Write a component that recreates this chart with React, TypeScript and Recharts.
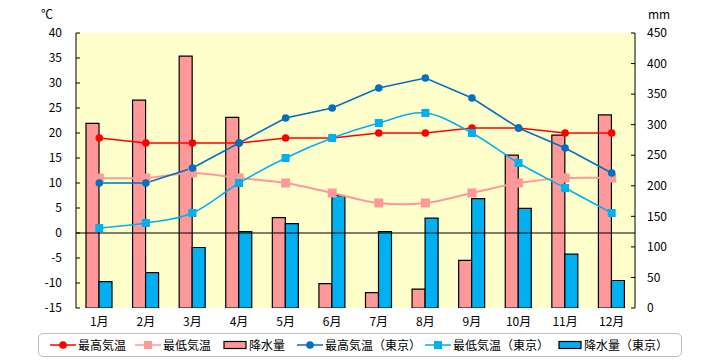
import React from 'react';
import { ComposedChart, Bar, Line, XAxis, YAxis, ReferenceLine, CartesianGrid } from 'recharts';

const months = ['1月', '2月', '3月', '4月', '5月', '6月', '7月', '8月', '9月', '10月', '11月', '12月'];
const maxTemp = [19, 18, 18, 18, 19, 19, 20, 20, 21, 21, 20, 20];
const minTemp = [11, 11, 12, 11, 10, 8, 6, 6, 8, 10, 11, 11];
const rain = [302, 340, 412, 312, 148, 40, 25, 31, 78, 250, 283, 316];
const tokyoMax = [10, 10, 13, 18, 23, 25, 29, 31, 27, 21, 17, 12];
const tokyoMin = [1, 2, 4, 10, 15, 19, 22, 24, 20, 14, 9, 4];
const tokyoRain = [43, 58, 99, 125, 138, 184, 125, 147, 179, 163, 88, 45];
const tempTicks = [-15, -10, -5, 0, 5, 10, 15, 20, 25, 30, 35, 40];
const rainTicks = [0, 50, 100, 150, 200, 250, 300, 350, 400, 450];

const data = months.map((m, i) => ({
  month: m,
  maxTemp: maxTemp[i],
  minTemp: minTemp[i],
  rain: rain[i],
  tokyoMax: tokyoMax[i],
  tokyoMin: tokyoMin[i],
  tokyoRain: tokyoRain[i],
}));

const FONT = '"Noto Sans CJK JP", "Noto Sans", sans-serif';

const C_RED = '#FF0000';
const C_PINK = '#FF9999';
const C_BLUE = '#0070C0';
const C_LBLUE = '#00B0F0';

// Catmull-Rom style smoothing (like spreadsheet "smoothed line")
function smoothCurve(context: any) {
  let pts: [number, number][] = [];
  return {
    areaStart() {},
    areaEnd() {},
    lineStart() {
      pts = [];
    },
    point(x: number, y: number) {
      pts.push([+x, +y]);
    },
    lineEnd() {
      if (!pts.length) return;
      context.moveTo(pts[0][0], pts[0][1]);
      for (let i = 0; i < pts.length - 1; i++) {
        const p0 = pts[i - 1] || pts[i];
        const p1 = pts[i];
        const p2 = pts[i + 1];
        const p3 = pts[i + 2] || p2;
        context.bezierCurveTo(
          p1[0] + (p2[0] - p0[0]) / 6,
          p1[1] + (p2[1] - p0[1]) / 6,
          p2[0] - (p3[0] - p1[0]) / 6,
          p2[1] - (p3[1] - p1[1]) / 6,
          p2[0],
          p2[1]
        );
      }
    },
  };
}

const squareDot = (color: string, size: number, name: string) => (props: any) => {
  const { cx, cy, index } = props;
  if (cx == null || cy == null) return <g key={`${name}-${index}`} />;
  return (
    <rect
      key={`${name}-${index}`}
      x={cx - size / 2}
      y={cy - size / 2}
      width={size}
      height={size}
      fill={color}
    />
  );
};

const LineSample = ({ color, marker }: { color: string; marker: 'circle' | 'square' }) => (
  <svg width={26} height={12} style={{ display: 'block' }}>
    <line x1={0} y1={6} x2={26} y2={6} stroke={color} strokeWidth={1.5} />
    {marker === 'circle' ? (
      <circle cx={13} cy={6} r={3.8} fill={color} />
    ) : (
      <rect x={9} y={2} width={8} height={8} fill={color} />
    )}
  </svg>
);

const RectSample = ({ color }: { color: string }) => (
  <svg width={24} height={12} style={{ display: 'block' }}>
    <rect x={1} y={2.5} width={22} height={7} fill={color} stroke="#000" strokeWidth={1.2} />
  </svg>
);

const legendItems = [
  { label: '最高気温', left: 11, kind: 'line', color: C_RED, marker: 'circle' },
  { label: '最低気温', left: 96, kind: 'line', color: C_PINK, marker: 'square' },
  { label: '降水量', left: 184, kind: 'rect', color: C_PINK, marker: 'circle' },
  { label: '最高気温（東京）', left: 258, kind: 'line', color: C_BLUE, marker: 'circle' },
  { label: '最低気温（東京）', left: 386, kind: 'line', color: C_LBLUE, marker: 'square' },
  { label: '降水量（東京）', left: 519, kind: 'rect', color: C_LBLUE, marker: 'circle' },
];

export default function App() {
  return (
    <div style={{ position: 'absolute', left: 0, top: 0, width: 720, height: 360, background: '#fff', fontFamily: FONT }}>
      <div style={{ position: 'absolute', left: 41, top: 5, fontSize: 12, color: '#000' }}>℃</div>
      <div style={{ position: 'absolute', left: 648, top: 5, fontSize: 12, color: '#000' }}>mm</div>
      <ComposedChart
        width={720}
        height={360}
        data={data}
        margin={{ top: 33, right: 45, bottom: 32, left: 36 }}
        barGap={0}
        style={{ fontFamily: FONT }}
      >
        <CartesianGrid horizontal={false} vertical={false} fill="#FFFFCC" stroke="none" />
        <XAxis
          dataKey="month"
          xAxisId="x"
          axisLine={false}
          tickLine={false}
          tickSize={0}
          tickMargin={9}
          height={20}
          interval={0}
          tick={{ fill: '#000', fontSize: 12, fontFamily: FONT }}
        />
        <YAxis
          yAxisId="l"
          orientation="left"
          width={40}
          domain={[-15, 40]}
          ticks={tempTicks}
          interval={0}
          allowDataOverflow
          axisLine={{ stroke: '#000', strokeWidth: 1 }}
          tickLine={{ stroke: '#000', strokeWidth: 1 }}
          tickSize={-4}
          tickMargin={18}
          tick={{ fill: '#000', fontSize: 12, fontFamily: FONT }}
        />
        <YAxis
          yAxisId="r"
          orientation="right"
          width={40}
          domain={[0, 450]}
          ticks={rainTicks}
          interval={0}
          allowDataOverflow
          axisLine={{ stroke: '#000', strokeWidth: 1 }}
          tickLine={{ stroke: '#000', strokeWidth: 1 }}
          tickSize={-4}
          tickMargin={16}
          tick={{ fill: '#000', fontSize: 12, fontFamily: FONT }}
        />
        <Bar
          xAxisId="x"
          yAxisId="r"
          dataKey="rain"
          barSize={13}
          fill={C_PINK}
          stroke="#000"
          strokeWidth={1.2}
          isAnimationActive={false}
        />
        <Bar
          xAxisId="x"
          yAxisId="r"
          dataKey="tokyoRain"
          barSize={13}
          fill={C_LBLUE}
          stroke="#000"
          strokeWidth={1.2}
          isAnimationActive={false}
        />
        <ReferenceLine xAxisId="x" yAxisId="l" y={0} stroke="#000" strokeWidth={1.2} />
        <Line
          xAxisId="x"
          yAxisId="l"
          dataKey="minTemp"
          type={smoothCurve as any}
          stroke={C_PINK}
          strokeWidth={2}
          dot={squareDot(C_PINK, 9, 'min') as any}
          activeDot={false}
          isAnimationActive={false}
        />
        <Line
          xAxisId="x"
          yAxisId="l"
          dataKey="maxTemp"
          type="linear"
          stroke={C_RED}
          strokeWidth={1.5}
          dot={{ r: 3.8, fill: C_RED, stroke: C_RED, strokeWidth: 0 }}
          activeDot={false}
          isAnimationActive={false}
        />
        <Line
          xAxisId="x"
          yAxisId="l"
          dataKey="tokyoMin"
          type={smoothCurve as any}
          stroke={C_LBLUE}
          strokeWidth={1.5}
          dot={squareDot(C_LBLUE, 8, 'tmin') as any}
          activeDot={false}
          isAnimationActive={false}
        />
        <Line
          xAxisId="x"
          yAxisId="l"
          dataKey="tokyoMax"
          type="linear"
          stroke={C_BLUE}
          strokeWidth={1.5}
          dot={{ r: 3.8, fill: C_BLUE, stroke: C_BLUE, strokeWidth: 0 }}
          activeDot={false}
          isAnimationActive={false}
        />
      </ComposedChart>
      <div
        style={{
          position: 'absolute',
          left: 38,
          top: 333,
          width: 644,
          height: 24,
          border: '1px solid #BDBDBD',
          borderRadius: 5,
          boxSizing: 'border-box',
        }}
      >
        {legendItems.map((it) => (
          <div
            key={it.label}
            style={{
              position: 'absolute',
              left: it.left,
              top: 4,
              display: 'flex',
              alignItems: 'center',
              fontSize: 12,
              lineHeight: '14px',
              color: '#000',
              whiteSpace: 'nowrap',
            }}
          >
            {it.kind === 'line' ? (
              <LineSample color={it.color} marker={it.marker as any} />
            ) : (
              <RectSample color={it.color} />
            )}
            <span style={{ marginLeft: 2 }}>{it.label}</span>
          </div>
        ))}
      </div>
    </div>
  );
}
